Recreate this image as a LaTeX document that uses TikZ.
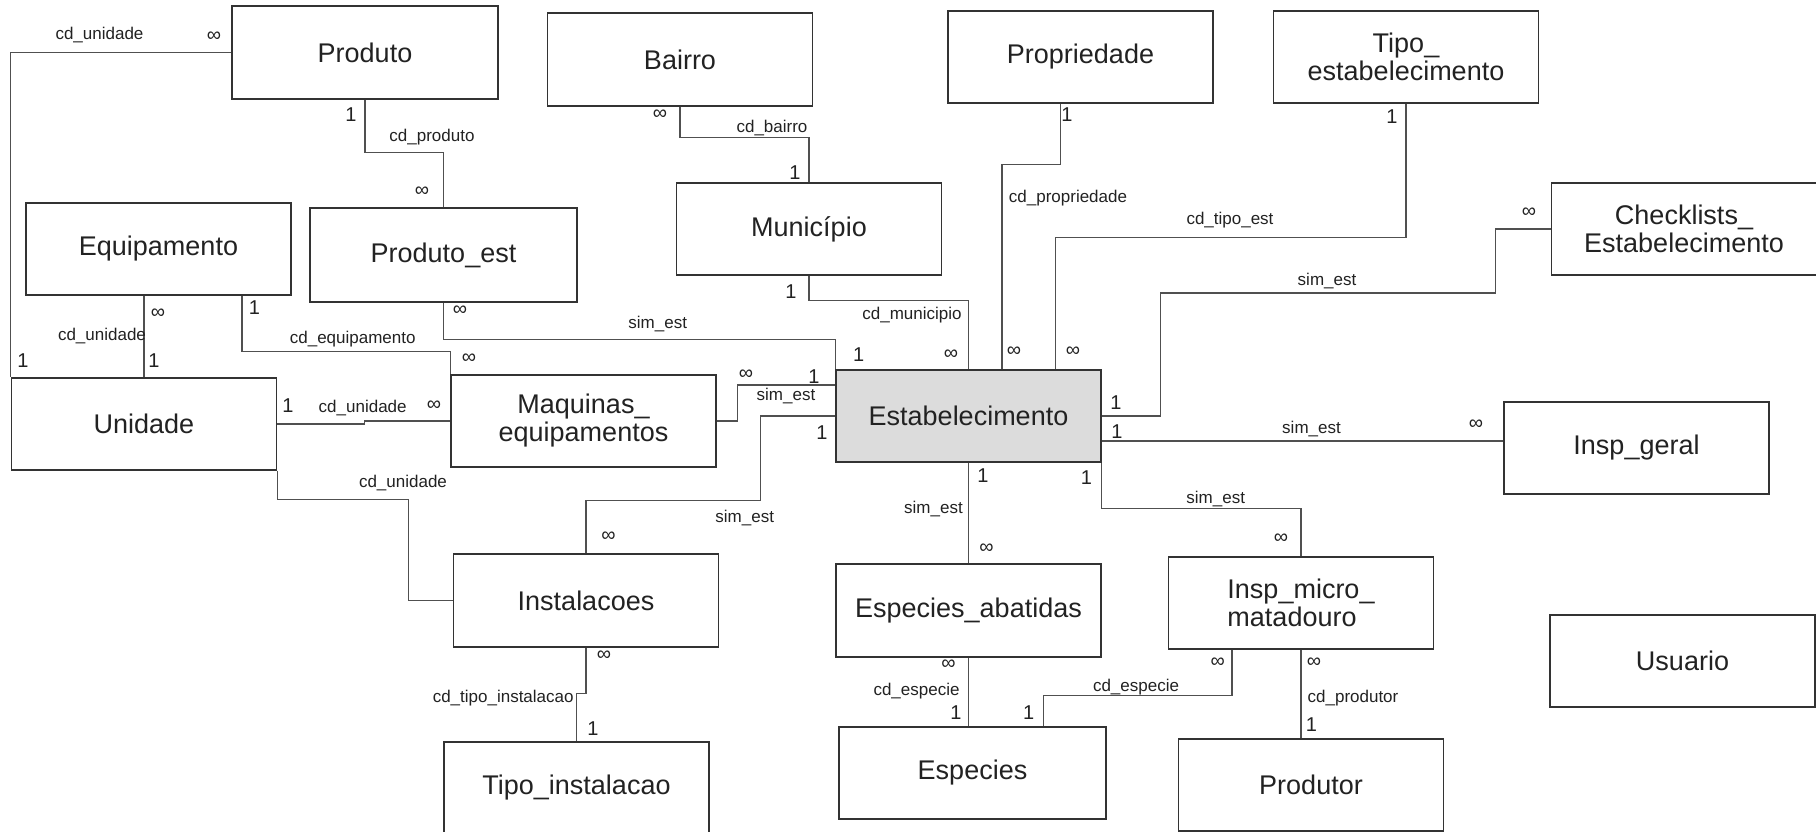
\documentclass[tikz,border=0pt]{standalone}
\usepackage{fontspec}
\setmainfont{Liberation Sans}
\usetikzlibrary{calc}
\definecolor{boxc}{HTML}{333333}
\definecolor{linec}{HTML}{505050}
\definecolor{txtc}{HTML}{222222}
\definecolor{estfill}{HTML}{DCDCDC}
\begin{document}
\begin{tikzpicture}[x=0.5pt,y=-0.5pt,
  ent/.style={draw=boxc, line width=0.7pt, fill=white, inner sep=0pt,
    font=\fontsize{13.5}{14}\selectfont, text=txtc, align=center,
    minimum width=132.5pt, minimum height=46pt},
  rel/.style={draw=linec, line width=0.6pt},
  lbl/.style={inner sep=0pt, font=\fontsize{8.5}{10}\selectfont, text=txtc},
  card/.style={inner sep=0pt, font=\fontsize{10}{12}\selectfont, text=txtc}]
\useasboundingbox (0,0) rectangle (1816,831);
\fill[white] (0,0) rectangle (1816,831);
\clip (0,0) rectangle (1816,831);

% entities
\node[ent, minimum width=133pt, minimum height=46.5pt] (produto) at (365,52.5) {Produto};
\node[ent, minimum height=46.5pt] (bairro) at (680,59.5) {Bairro};
\node[ent] (propriedade) at (1080.5,57) {Propriedade};
\node[ent] (tipoest) at (1406,57) {Tipo\_\\estabelecimento};
\node[ent] (equipamento) at (158.5,249) {Equipamento};
\node[ent, minimum width=133.5pt, minimum height=47pt] (produtoest) at (443.5,255) {Produto\_est};
\node[ent] (municipio) at (809,229) {Município};
\node[ent] (checklists) at (1684,229) {Checklists\_\\Estabelecimento};
\node[ent] (unidade) at (144,424) {Unidade};
\node[ent] (maquinas) at (583.5,421) {Maquinas\_\\equipamentos};
\node[ent, fill=estfill] (estab) at (968.5,416) {Estabelecimento};
\node[ent] (inspgeral) at (1636.5,448) {Insp\_geral};
\node[ent, minimum height=46.5pt] (instalacoes) at (586,600.5) {Instalacoes};
\node[ent, minimum height=46.5pt] (espab) at (968.5,610.5) {Especies\_abatidas};
\node[ent, align=left] (inspmicro) at (1301,603) {Insp\_micro\_\\matadouro};
\node[ent] (usuario) at (1682.5,661) {Usuario};
\node[ent] (tipoinst) at (576.5,788) {Tipo\_instalacao};
\node[ent, minimum width=133.5pt] (especies) at (972.5,773) {Especies};
\node[ent] (produtor) at (1311,785) {Produtor};

% connectors
\draw[rel] (produto.west) -| (unidade.north west);
\draw[rel] (produto.south) -- ++(0,53) -| (produtoest.north);
\draw[rel] (bairro.south) -- ++(0,31) -| (municipio.north);
\draw[rel] (municipio.south) -- ++(0,25) -| (estab.north);
\draw[rel] ([xshift=-10pt]propriedade.south) -- ++(0,61) -| ([xshift=16.75pt]estab.north);
\draw[rel] (tipoest.south) -- ++(0,134) -| ([xshift=43.5pt]estab.north);
\draw[rel] (checklists.west) -- ++(-55,0) -- ++(0,64) -- ++(-335.4,0) |- (estab.east);
\coordinate (h1) at ([yshift=-12.5pt]estab.east);
\draw[rel] (h1) -- (h1 -| inspgeral.west);
\draw[rel] (estab.south) -- (espab.north);
\draw[rel] (estab.south east) -- ++(0,46) -| (inspmicro.north);
\draw[rel] (espab.south) -- (espab.south |- especies.north);
\draw[rel] ([xshift=-34.5pt]inspmicro.south) -- ++(0,46) -| ([xshift=35.5pt]especies.north);
\draw[rel] (inspmicro.south) -- (inspmicro.south |- produtor.north);
\draw[rel] (unidade.north |- equipamento.south) -- (unidade.north);
\draw[rel] ([xshift=41.75pt]equipamento.south) -- ++(0,56) -| (maquinas.north west);
\draw[rel] (unidade.east) -- ++(87.6,0) |- (maquinas.west);
\draw[rel] (unidade.south east) -- ++(0,29) -- ++(131.2,0) |- (instalacoes.west);
\draw[rel] (produtoest.south) -- ++(0,37) -| (estab.north west);
\draw[rel] (maquinas.east) -- ++(21,0) |- ([yshift=15.5pt]estab.west);
\draw[rel] (instalacoes.north) -- ++(0,-53) -- ++(174.3,0) |- (estab.west);
\draw[rel] (instalacoes.south) -- ++(0,46) -| (tipoinst.north);

% labels
\node[lbl] (l1) at (99.5,35) {cd\_unidade};
\node[card] (c1) at (214,37) {∞};
\node[card] (c2) at (351,115) {1};
\node[lbl] (l2) at (432,137) {cd\_produto};
\node[card] (c3) at (422,192) {∞};
\node[card] (c4) at (660,115) {∞};
\node[lbl] (l3) at (772,128) {cd\_bairro};
\node[card] (c5) at (795,173) {1};
\node[card] (c6) at (791,292) {1};
\node[lbl] (l4) at (912,315) {cd\_municipio};
\node[card] (c7) at (951,355) {∞};
\node[card] (c8) at (1067,115) {1};
\node[lbl] (l5) at (1068,198) {cd\_propriedade};
\node[card] (c9) at (1014,352) {∞};
\node[card] (c10) at (1392,117) {1};
\node[lbl] (l6) at (1230,220) {cd\_tipo\_est};
\node[card] (c11) at (1073,352) {∞};
\node[card] (c12) at (1529,213) {∞};
\node[lbl] (l7) at (1327,281) {sim\_est};
\node[card] (c13) at (1116,403) {1};
\node[card] (c14) at (1117,432) {1};
\node[lbl] (l8) at (1311.5,429) {sim\_est};
\node[card] (c15) at (1476,425) {∞};
\node[card] (c16) at (983,476) {1};
\node[lbl] (l9) at (933.5,509) {sim\_est};
\node[card] (c17) at (986.6,549) {∞};
\node[card] (c18) at (1086.5,478) {1};
\node[lbl] (l10) at (1215.7,499) {sim\_est};
\node[card] (c19) at (1281,539) {∞};
\node[card] (c20) at (948.5,665) {∞};
\node[lbl] (l11) at (916.5,691) {cd\_especie};
\node[card] (c21) at (956,713) {1};
\node[card] (c22) at (1217.7,663) {∞};
\node[lbl] (l12) at (1136,687) {cd\_especie};
\node[card] (c23) at (1028.7,713) {1};
\node[card] (c24) at (1314,663) {∞};
\node[lbl] (l13) at (1353,698) {cd\_produtor};
\node[card] (c25) at (1311.5,725) {1};
\node[card] (c26) at (158,314) {∞};
\node[lbl] (l14) at (102,336) {cd\_unidade};
\node[card] (c27) at (154,361) {1};
\node[card] (c28) at (23,361) {1};
\node[card] (c29) at (254.5,308) {1};
\node[lbl] (l15) at (352.7,339) {cd\_equipamento};
\node[card] (c30) at (469,359) {∞};
\node[card] (c31) at (288,406) {1};
\node[lbl] (l16) at (362.7,408) {cd\_unidade};
\node[card] (c32) at (434,406) {∞};
\node[lbl] (l17) at (403,483) {cd\_unidade};
\node[card] (c33) at (460,311) {∞};
\node[lbl] (l18) at (657.7,324) {sim\_est};
\node[card] (c34) at (858.6,355) {1};
\node[card] (c35) at (746,375) {∞};
\node[card] (c36) at (814,377) {1};
\node[lbl] (l19) at (786,395.7) {sim\_est};
\node[card] (c37) at (608.6,537) {∞};
\node[lbl] (l20) at (744.7,518) {sim\_est};
\node[card] (c38) at (822,432.7) {1};
\node[card] (c39) at (604,656) {∞};
\node[lbl, anchor=east] (l21) at (574,698) {cd\_tipo\_instalacao};
\node[card] (c40) at (593,729) {1};
\end{tikzpicture}
\end{document}
